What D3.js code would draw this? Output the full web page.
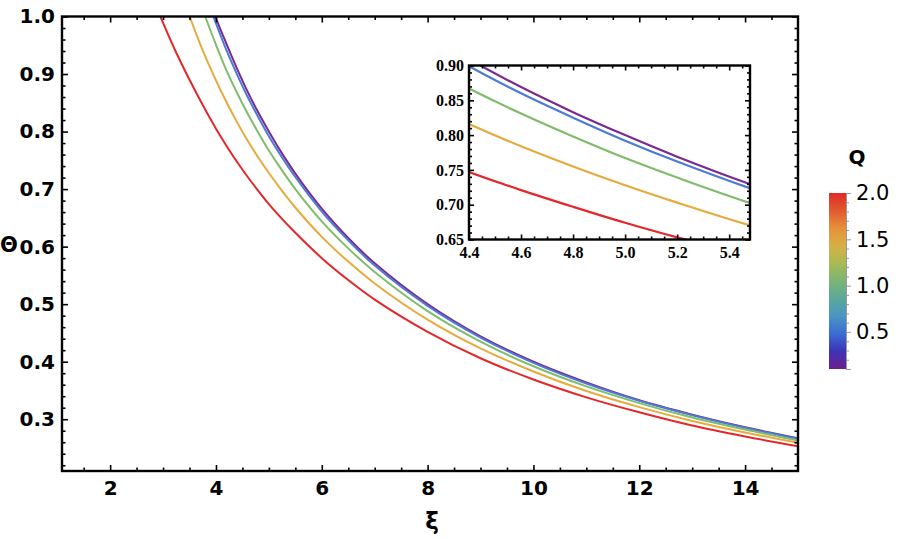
<!DOCTYPE html>
<html>
<head>
<meta charset="utf-8">
<script src="https://cdn.jsdelivr.net/npm/d3@7"></script>
<style>
  body { margin: 0; background: #fff; }
  svg { display: block; }
  .lab { font-family: "DejaVu Sans", sans-serif; font-weight: bold; font-size: 20px; fill: #000; }
  .ins { font-family: "Liberation Serif", serif; font-weight: bold; font-size: 16px; fill: #000; }
</style>
</head>
<body>
<svg id="chart" width="906" height="539"></svg>
<script>
// values
var qValues = [0.1, 0.5, 1.0, 1.5, 2.0];
var qColors = ["#7b2a8f", "#4b7bd6", "#80bc6b", "#e6ab3c", "#e3272b"];
var xiStart = [3.998, 3.951, 3.796, 3.503, 2.95];  // where each curve enters at Θ = 1
var xiGrid = [3.0, 3.25, 3.5, 3.75, 4.0, 4.2, 4.4, 4.6, 4.8, 5.0, 5.2, 5.5, 6, 6.5, 7, 8, 9, 10, 11, 12, 13, 14, 15];
var thetaQ01 = [null, null, null, null, 0.998, 0.952, 0.909, 0.869, 0.833, 0.800, 0.769, 0.727, 0.666, 0.615, 0.571, 0.500, 0.444, 0.400, 0.364, 0.333, 0.308, 0.286, 0.267];
var thetaQ05 = [null, null, null, null, 0.988, 0.941, 0.899, 0.860, 0.825, 0.792, 0.762, 0.721, 0.661, 0.611, 0.567, 0.497, 0.442, 0.398, 0.362, 0.332, 0.307, 0.285, 0.266];
var thetaQ10 = [null, null, null, null, 0.951, 0.906, 0.867, 0.831, 0.798, 0.767, 0.739, 0.700, 0.644, 0.597, 0.556, 0.488, 0.435, 0.392, 0.357, 0.328, 0.303, 0.282, 0.263];
var thetaQ15 = [null, null, null, 0.941, 0.889, 0.851, 0.816, 0.784, 0.755, 0.728, 0.703, 0.668, 0.617, 0.574, 0.536, 0.473, 0.423, 0.383, 0.349, 0.321, 0.297, 0.277, 0.259];
var thetaQ20 = [0.989, 0.937, 0.890, 0.846, 0.805, 0.775, 0.747, 0.721, 0.697, 0.674, 0.653, 0.624, 0.580, 0.542, 0.508, 0.452, 0.406, 0.369, 0.338, 0.312, 0.289, 0.270, 0.253];
var thetaAll = [thetaQ01, thetaQ05, thetaQ10, thetaQ15, thetaQ20];

var xTicks = [2, 4, 6, 8, 10, 12, 14];
var yTicks = [0.3, 0.4, 0.5, 0.6, 0.7, 0.8, 0.9, 1.0];
var insetXTicks = [4.4, 4.6, 4.8, 5.0, 5.2, 5.4];
var insetYTicks = [0.65, 0.70, 0.75, 0.80, 0.85, 0.90];
var barTicks = [0.5, 1.0, 1.5, 2.0];

var series = qValues.map(function(q, i) {
  var pts = [[xiStart[i], 1.0]];
  xiGrid.forEach(function(xv, j) {
    if (thetaAll[i][j] != null && xv > xiStart[i]) pts.push([xv, thetaAll[i][j]]);
  });
  return {q: q, color: qColors[i], pts: pts};
});

function steps(a, b, st) {
  var out = [];
  for (var k = 0; a + k * st <= b + 1e-9; k++) out.push(+(a + k * st).toFixed(4));
  return out;
}
function notIn(arr, list) {
  return arr.filter(function(v) { return !list.some(function(m) { return Math.abs(m - v) < 1e-6; }); });
}

var svg = d3.select("#chart");

// frame ticks on all four sides, pointing inward
function frame(g, x, y, xt, xm, yt, ym, big, small, xfmt, yfmt, cls, xpad, ypad) {
  var w = x.range()[1] - x.range()[0], h = y.range()[0] - y.range()[1];
  var sides = [
    [d3.axisBottom, x, xt, xm, "translate(0," + y.range()[0] + ")", xfmt, xpad],
    [d3.axisTop, x, xt, xm, "translate(0," + y.range()[1] + ")", null],
    [d3.axisLeft, y, yt, ym, "translate(" + x.range()[0] + ",0)", yfmt, ypad],
    [d3.axisRight, y, yt, ym, "translate(" + x.range()[1] + ",0)", null]
  ];
  sides.forEach(function(s) {
    var major = s[0](s[1]).tickValues(s[2]).tickSize(-big).tickFormat(s[5] ? s[5] : "").tickPadding(s[6] || 3);
    var minor = s[0](s[1]).tickValues(s[3]).tickSize(-small).tickFormat("");
    var a = g.append("g").attr("transform", s[4]).call(major);
    var b = g.append("g").attr("transform", s[4]).call(minor);
    [a, b].forEach(function(sel) {
      sel.select(".domain").remove();
      sel.selectAll("line").attr("stroke", "#000").attr("stroke-width", 1.6);
      sel.selectAll("text").attr("class", cls).attr("font-family", null).attr("font-size", null);
    });
  });
  g.append("rect")
    .attr("x", x.range()[0]).attr("y", y.range()[1])
    .attr("width", w).attr("height", h)
    .attr("fill", "none").attr("stroke", "#000").attr("stroke-width", 2.4);
}

// main plot
var x = d3.scaleLinear().domain([1.09, 15]).range([62, 798]);
var y = d3.scaleLinear().domain([0.21, 1.0]).range([471, 16.5]);

svg.append("clipPath").attr("id", "mainClip").append("rect")
  .attr("x", 62).attr("y", 16.5).attr("width", 736).attr("height", 454.5);

var line = d3.line().x(function(d) { return x(d[0]); }).y(function(d) { return y(d[1]); })
  .curve(d3.curveCatmullRom.alpha(0.5));

svg.append("g").attr("clip-path", "url(#mainClip)")
  .selectAll("path").data(series).enter()
  .append("path")
    .attr("d", function(d) { return line(d.pts); })
    .attr("fill", "none")
    .attr("stroke", function(d) { return d.color; })
    .attr("stroke-width", 2);

frame(svg.append("g"), x, y,
  xTicks, notIn(steps(1.5, 14.5, 0.5), xTicks),
  yTicks, notIn(steps(0.22, 0.98, 0.02), yTicks),
  6, 3.5, d3.format("d"), d3.format(".1f"), "lab", 10, 7);

svg.append("text").attr("class", "lab").attr("x", 9).attr("y", 252)
  .attr("text-anchor", "middle").style("font-size", "21px").text("Θ");
svg.append("text").attr("class", "lab").attr("x", 432).attr("y", 529)
  .attr("text-anchor", "middle").style("font-size", "23px").text("ξ");

// inset
var xi = d3.scaleLinear().domain([4.4, 5.48]).range([469, 750]);
var yi = d3.scaleLinear().domain([0.65, 0.90]).range([239.5, 65.5]);

svg.append("rect").attr("x", 469).attr("y", 65.5).attr("width", 281).attr("height", 174)
  .attr("fill", "#fff");
svg.append("clipPath").attr("id", "insetClip").append("rect")
  .attr("x", 469).attr("y", 65.5).attr("width", 281).attr("height", 174);

var lineIn = d3.line().x(function(d) { return xi(d[0]); }).y(function(d) { return yi(d[1]); })
  .curve(d3.curveCatmullRom.alpha(0.5));

svg.append("g").attr("clip-path", "url(#insetClip)")
  .selectAll("path").data(series).enter()
  .append("path")
    .attr("d", function(d) { return lineIn(d.pts); })
    .attr("fill", "none")
    .attr("stroke", function(d) { return d.color; })
    .attr("stroke-width", 2.2);

frame(svg.append("g"), xi, yi,
  insetXTicks, notIn(steps(4.4, 5.45, 0.05), insetXTicks),
  insetYTicks, notIn(steps(0.65, 0.90, 0.01), insetYTicks),
  5, 3, d3.format(".1f"), d3.format(".2f"), "ins", 7, 5);

// colour bar
var qs = d3.scaleLinear().domain([0.1, 2.0]).range([369, 193]);
var rainbow = ["#6c1f8a", "#3d33b6", "#3b6cd2", "#4a95c2", "#5ba89c", "#7bb475", "#a8bb55", "#d6b044", "#e6913a", "#e05a30", "#df2a27"];
var grad = svg.append("defs").append("linearGradient").attr("id", "rb")
  .attr("x1", 0).attr("y1", 1).attr("x2", 0).attr("y2", 0);
rainbow.forEach(function(c, i) {
  grad.append("stop").attr("offset", i / (rainbow.length - 1)).attr("stop-color", c);
});
svg.append("rect").attr("x", 829).attr("y", 193).attr("width", 17).attr("height", 176)
  .attr("fill", "url(#rb)");

var barMinor = svg.append("g").attr("transform", "translate(846,0)")
  .call(d3.axisRight(qs).tickValues(notIn(steps(0.1, 2.0, 0.1), barTicks)).tickSize(3).tickFormat(""));
var barMajor = svg.append("g").attr("transform", "translate(846,0)")
  .call(d3.axisRight(qs).tickValues(barTicks).tickSize(5).tickPadding(5).tickFormat(d3.format(".1f")));
[barMinor, barMajor].forEach(function(sel) {
  sel.select(".domain").attr("stroke", "#999").attr("stroke-width", 1);
  sel.selectAll("line").attr("stroke", "#999");
  sel.selectAll("text").attr("font-family", "DejaVu Sans, sans-serif").attr("font-size", 21).attr("fill", "#000");
});

svg.append("text").attr("class", "lab").attr("x", 857).attr("y", 164)
  .attr("text-anchor", "middle").text("Q");
</script>
</body>
</html>
